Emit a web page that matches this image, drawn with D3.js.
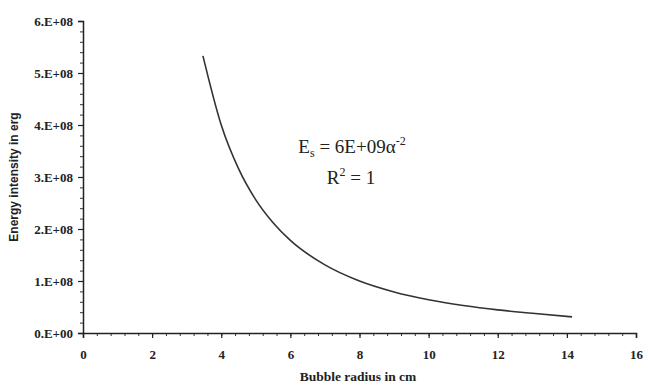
<!DOCTYPE html>
<html>
<head>
<meta charset="utf-8">
<script src="https://cdn.jsdelivr.net/npm/d3@7"></script>
<style>
  body { margin: 0; background: #fff; }
  svg { display: block; }
</style>
</head>
<body>
<div id="chart"></div>
<script>
// bubble radius (cm) and energy intensity (erg)
var radius = [3.47, 4, 4.5, 5, 5.5, 6, 7, 8, 9, 10, 11, 12, 13, 14.15];
var energy = [5.33e8, 4.0e8, 3.16e8, 2.56e8, 2.12e8, 1.78e8, 1.31e8, 1.0e8, 7.9e7, 6.4e7, 5.3e7, 4.45e7, 3.8e7, 3.1e7];

var xTicks = [0, 2, 4, 6, 8, 10, 12, 14, 16];
var yTicks = [0, 1e8, 2e8, 3e8, 4e8, 5e8, 6e8];
var yTickLabels = ["0.E+00", "1.E+08", "2.E+08", "3.E+08", "4.E+08", "5.E+08", "6.E+08"];

var width = 648, height = 385;
var margin = { top: 21, right: 12, bottom: 52, left: 83 },
    w = width - margin.left - margin.right,
    h = height - margin.top - margin.bottom;

var svg = d3.select("#chart")
    .append("svg")
    .attr("width", width)
    .attr("height", height);

var g = svg.append("g")
    .attr("transform", "translate(" + margin.left + "," + margin.top + ")");

var x = d3.scaleLinear().domain([0, 16]).range([0, w]);
var y = d3.scaleLinear().domain([0, 6e8]).range([h, 0]);

var serif = "'Liberation Serif', 'Times New Roman', serif";

// minor ticks
g.append("g")
    .attr("transform", "translate(0," + h + ")")
    .call(d3.axisBottom(x).tickValues(d3.range(0, 16.01, 0.4)).tickSize(3).tickFormat(""))
    .call(function (a) { a.select(".domain").remove(); })
    .selectAll("line").attr("stroke", "#333");
g.append("g")
    .call(d3.axisLeft(y).tickValues(d3.range(0, 6.01e8, 2e7)).tickSize(3).tickFormat(""))
    .call(function (a) { a.select(".domain").remove(); })
    .selectAll("line").attr("stroke", "#333");

// x axis
var xAxis = g.append("g")
    .attr("transform", "translate(0," + h + ")")
    .call(d3.axisBottom(x).tickValues(xTicks).tickSize(5).tickPadding(12));
xAxis.select(".domain").attr("stroke", "#222").attr("stroke-width", 1.5);
xAxis.selectAll("line").attr("stroke", "#222").attr("stroke-width", 1.2);
xAxis.selectAll("text")
    .attr("font-family", serif)
    .attr("font-size", 13)
    .attr("font-weight", "bold")
    .attr("fill", "#222");

// y axis
var yAxis = g.append("g")
    .call(d3.axisLeft(y).tickValues(yTicks).tickSize(5).tickPadding(5)
        .tickFormat(function (d, i) { return yTickLabels[i]; }));
yAxis.select(".domain").attr("stroke", "#222").attr("stroke-width", 1.5);
yAxis.selectAll("line").attr("stroke", "#222").attr("stroke-width", 1.2);
yAxis.selectAll("text")
    .attr("font-family", serif)
    .attr("font-size", 13)
    .attr("font-weight", "bold")
    .attr("fill", "#222");

// curve
var pts = radius.map(function (r, i) { return [r, energy[i]]; });
g.append("path")
    .datum(pts)
    .attr("fill", "none")
    .attr("stroke", "#333")
    .attr("stroke-width", 1.6)
    .attr("d", d3.line()
        .curve(d3.curveMonotoneX)
        .x(function (d) { return x(d[0]); })
        .y(function (d) { return y(d[1]); }));

// equation
var eq = svg.append("text")
    .attr("x", 352)
    .attr("y", 153)
    .attr("text-anchor", "middle")
    .attr("font-family", serif)
    .attr("font-size", 19)
    .attr("fill", "#222");
eq.append("tspan").text("E");
eq.append("tspan").attr("font-size", 12).attr("dy", 4).text("s");
eq.append("tspan").attr("dy", -4).text(" = 6E+09\u03b1");
eq.append("tspan").attr("font-size", 12).attr("dy", -8).text("-2");

var r2 = svg.append("text")
    .attr("x", 351)
    .attr("y", 184)
    .attr("text-anchor", "middle")
    .attr("font-family", serif)
    .attr("font-size", 19)
    .attr("fill", "#222");
r2.append("tspan").text("R");
r2.append("tspan").attr("font-size", 12).attr("dy", -8).text("2");
r2.append("tspan").attr("dy", 8).text(" = 1");

// axis titles
svg.append("text")
    .attr("x", 358)
    .attr("y", 381)
    .attr("text-anchor", "middle")
    .attr("font-family", serif)
    .attr("font-size", 13.5)
    .attr("font-weight", "bold")
    .attr("fill", "#222")
    .text("Bubble radius in cm");

svg.append("text")
    .attr("transform", "translate(18,177) rotate(-90)")
    .attr("text-anchor", "middle")
    .attr("font-family", "'Liberation Sans Narrow', 'Liberation Sans', Arial, sans-serif")
    .attr("font-size", 12)
    .attr("font-weight", "bold")
    .attr("fill", "#222")
    .text("Energy intensity in erg");
</script>
</body>
</html>
